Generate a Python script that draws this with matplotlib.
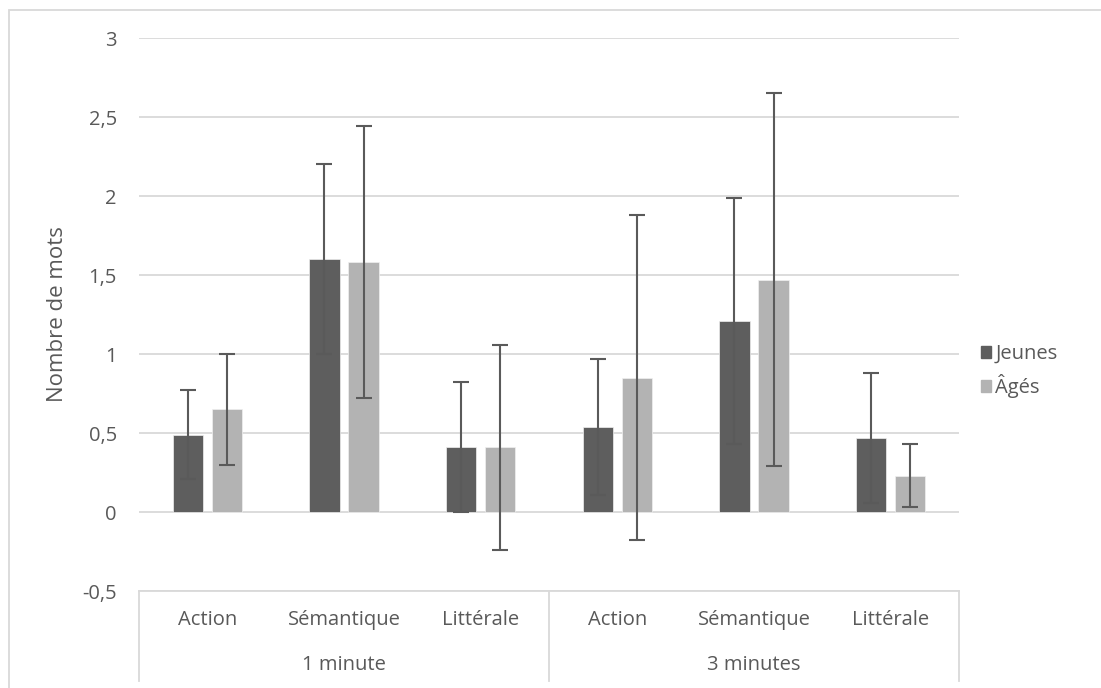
import matplotlib.pyplot as plt
import matplotlib.patches as mpatches
import numpy as np

# data
groups = ['1 minute', '3 minutes']
tasks = ['Action', 'Sémantique', 'Littérale']
series = ['Jeunes', 'Âgés']
jeunes = [0.49, 1.60, 0.41, 0.54, 1.21, 0.47]
jeunes_err = [0.28, 0.60, 0.41, 0.43, 0.78, 0.41]
ages = [0.65, 1.58, 0.41, 0.85, 1.47, 0.23]
ages_err = [0.35, 0.86, 0.65, 1.03, 1.18, 0.20]
yticks = [-0.5, 0, 0.5, 1, 1.5, 2, 2.5, 3]

W, H = 1101, 688
txt = '#595959'
grid = '#d9d9d9'
fs = 14.5
plt.rcParams['font.family'] = ['Open Sans', 'DejaVu Sans']

fig = plt.figure(figsize=(W / 100, H / 100), dpi=100)
ax = fig.add_axes([139 / W, 1 - 591 / H, 820 / W, 553 / H])

x = np.arange(len(jeunes))
bw = 0.223
off = 0.143
ax.bar(x - off, jeunes, bw, color='#5e5e5e', edgecolor='#f0f0f0', linewidth=0.5, label=series[0], zorder=2)
ax.bar(x + off, ages, bw, color='#b3b3b3', edgecolor='#f0f0f0', linewidth=0.5, label=series[1], zorder=2)
ax.errorbar(x - off, jeunes, yerr=jeunes_err, fmt='none', ecolor='#5a5a5a', elinewidth=1.5, capsize=6, capthick=1.5, zorder=3)
ax.errorbar(x + off, ages, yerr=ages_err, fmt='none', ecolor='#5a5a5a', elinewidth=1.5, capsize=6, capthick=1.5, zorder=3)

ax.set_xlim(-0.5, len(jeunes) - 0.5)
ax.set_ylim(-0.5, 3)
ax.set_yticks(yticks)
ax.set_yticklabels([('%g' % v).replace('.', ',') for v in yticks], color=txt, fontsize=fs)
ax.tick_params(axis='y', length=0, pad=16)
ax.set_xticks([])
ax.yaxis.grid(True, color=grid, linewidth=1.3, zorder=0)
ax.set_axisbelow(True)
for s in ['top', 'right', 'left']:
    ax.spines[s].set_visible(False)
ax.spines['bottom'].set_color(grid)
ax.spines['bottom'].set_linewidth(1.3)
ax.set_ylabel('Nombre de mots', color=txt, fontsize=16, labelpad=10)

# two-level category axis, Excel style
tr = ax.get_xaxis_transform()
box_bottom = -(681 - 591) / 553
for xv in [-0.5, 2.5, 5.5]:
    ax.plot([xv, xv], [0, box_bottom], transform=tr, color=grid, lw=1.3, clip_on=False)
for i in range(len(jeunes)):
    ax.text(x[i], -(620 - 591) / 553, tasks[i % 3], transform=tr, ha='center', va='center',
            color=txt, fontsize=fs)
for g, name in enumerate(groups):
    ax.text(g * 3 + 1, -(665 - 591) / 553, name, transform=tr, ha='center', va='center',
            color=txt, fontsize=fs)

# legend
handles = [mpatches.Patch(color='#5e5e5e'), mpatches.Patch(color='#b3b3b3')]
fig.legend(handles, series, loc='center left', bbox_to_anchor=(963 / W, 1 - 371 / H),
           frameon=False, handlelength=0.5, handleheight=0.5, handletextpad=0.2,
           labelspacing=0.5, fontsize=fs, labelcolor=txt)

# chart area border
fig.add_artist(mpatches.Rectangle((9 / W, -0.1), 1.2, 1.1 - 10 / H, transform=fig.transFigure,
                                  fill=False, edgecolor=grid, linewidth=1.3))

fig.savefig('out.png', dpi=100)
